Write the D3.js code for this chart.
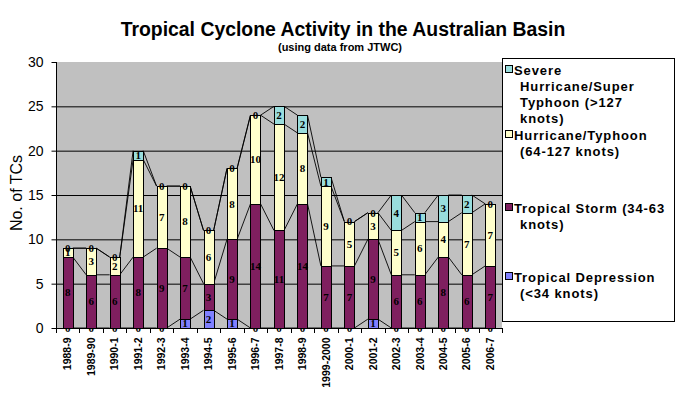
<!DOCTYPE html>
<html>
<head>
<meta charset="utf-8">
<script src="https://cdn.jsdelivr.net/npm/d3@7"></script>
<style>
  body { margin: 0; background: #fff; }
  svg { display: block; }
</style>
</head>
<body>
<div id="chart"></div>
<script>
const seasons = ["1988-9", "1989-90", "1990-1", "1991-2", "1992-3", "1993-4", "1994-5",
  "1995-6", "1996-7", "1997-8", "1998-9", "1999-2000", "2000-1", "2001-2", "2002-3",
  "2003-4", "2004-5", "2005-6", "2006-7"];
const depression = [0, 0, 0, 0, 0, 1, 2, 1, 0, 0, 0, 0, 0, 1, 0, 0, 0, 0, 0];
const storm = [8, 6, 6, 8, 9, 7, 3, 9, 14, 11, 14, 7, 7, 9, 6, 6, 8, 6, 7];
const hurricane = [1, 3, 2, 11, 7, 8, 6, 8, 10, 12, 8, 9, 5, 3, 5, 6, 4, 7, 7];
const severe = [0, 0, 0, 1, 0, 0, 0, 0, 0, 2, 2, 1, 0, 0, 4, 1, 3, 2, 0];
const yTicks = [0, 5, 10, 15, 20, 25, 30];

const seriesInfo = [
  { key: "td", color: "#8080ff", legend: ["Tropical Depression", "(<34 knots)"] },
  { key: "ts", color: "#7f1f5f", legend: ["Tropical Storm (34-63", "knots)"] },
  { key: "h", color: "#ffffcc", legend: ["Hurricane/Typhoon", "(64-127 knots)"] },
  { key: "sh", color: "#99dddd", legend: ["Severe", "Hurricane/Super", "Typhoon (>127", "knots)"] }
];

const table = seasons.map((s, i) => ({
  season: s, td: depression[i], ts: storm[i], h: hurricane[i], sh: severe[i]
}));

const width = 689;
const height = 395;
const plot = { left: 56, right: 502, top: 62, bottom: 328 };

const svg = d3.select("#chart").append("svg")
  .attr("width", width)
  .attr("height", height)
  .style("font-family", "'Liberation Sans', Arial, sans-serif");

const x = d3.scaleBand()
  .domain(seasons)
  .range([plot.left, plot.right])
  .paddingInner(0.57)
  .paddingOuter(0.285);

const y = d3.scaleLinear()
  .domain([0, 30])
  .range([plot.bottom, plot.top]);

const stacked = d3.stack().keys(seriesInfo.map(d => d.key))(table);

// plot area
svg.append("rect")
  .attr("x", plot.left)
  .attr("y", plot.top)
  .attr("width", plot.right - plot.left)
  .attr("height", plot.bottom - plot.top)
  .attr("fill", "#c0c0c0");

svg.append("g")
  .selectAll("line")
  .data(yTicks.filter(t => t > 0 && t < 30))
  .join("line")
  .attr("x1", plot.left)
  .attr("x2", plot.right)
  .attr("y1", d => y(d) + 0.5)
  .attr("y2", d => y(d) + 0.5)
  .attr("stroke", "#000");

// series lines between bars
const bw = x.bandwidth();
stacked.forEach(layer => {
  const segs = [];
  for (let i = 0; i < seasons.length - 1; i++) {
    segs.push([
      [x(seasons[i]) + bw, y(layer[i][1])],
      [x(seasons[i + 1]), y(layer[i + 1][1])]
    ]);
  }
  svg.append("g")
    .selectAll("line")
    .data(segs)
    .join("line")
    .attr("x1", d => d[0][0])
    .attr("y1", d => d[0][1])
    .attr("x2", d => d[1][0])
    .attr("y2", d => d[1][1])
    .attr("stroke", "#000")
    .attr("stroke-width", 0.9);
});

// bars
const layers = svg.append("g")
  .selectAll("g")
  .data(stacked)
  .join("g")
  .attr("fill", (d, i) => seriesInfo[i].color);

layers.selectAll("rect")
  .data(d => d.filter(p => p[1] > p[0]))
  .join("rect")
  .attr("x", d => Math.round(x(d.data.season)) + 0.5)
  .attr("y", d => Math.round(y(d[1])) + 0.5)
  .attr("width", Math.round(bw))
  .attr("height", d => Math.round(y(d[0])) - Math.round(y(d[1])))
  .attr("stroke", "#000")
  .attr("stroke-width", 1);

// data labels
layers.selectAll("text")
  .data(d => d.map(p => ({ p, key: d.key })))
  .join("text")
  .attr("x", d => x(d.p.data.season) + bw / 2)
  .attr("y", d => y((d.p[0] + d.p[1]) / 2))
  .attr("dy", "0.35em")
  .attr("text-anchor", "middle")
  .attr("fill", "#000")
  .style("font-family", "'Liberation Serif', 'Times New Roman', serif")
  .style("font-weight", "bold")
  .style("font-size", "11px")
  .text(d => d.p.data[d.key]);

// y axis
const gy = svg.append("g")
  .attr("transform", `translate(${plot.left + 0.5},0)`)
  .call(d3.axisLeft(y).tickValues(yTicks).tickSize(5).tickPadding(8).tickFormat(d3.format("d")));
gy.select(".domain").attr("stroke", "#000").attr("d", `M0,${plot.top}V${plot.bottom}`);
gy.selectAll(".tick line").attr("stroke", "#000");
gy.selectAll(".tick text")
  .style("font-family", "'Liberation Sans', Arial, sans-serif")
  .style("font-size", "14px")
  .attr("fill", "#000");

// x axis
const gx = svg.append("g")
  .attr("transform", `translate(0,${plot.bottom + 0.5})`)
  .call(d3.axisBottom(x).tickSize(0).tickPadding(0));
gx.select(".domain").attr("stroke", "#000").attr("d", `M${plot.left},0H${plot.right}`);
gx.selectAll(".tick text")
  .attr("transform", "rotate(-90)")
  .attr("x", -9)
  .attr("y", 0)
  .attr("dy", "0.35em")
  .attr("text-anchor", "end")
  .style("font-family", "'Liberation Sans', Arial, sans-serif")
  .style("font-weight", "bold")
  .style("font-size", "10.5px")
  .attr("fill", "#000");

svg.append("g")
  .selectAll("line")
  .data(d3.range(seasons.length + 1))
  .join("line")
  .attr("x1", i => Math.round(plot.left + x.step() * i) + 0.5)
  .attr("x2", i => Math.round(plot.left + x.step() * i) + 0.5)
  .attr("y1", plot.bottom)
  .attr("y2", plot.bottom + 5)
  .attr("stroke", "#000");

svg.append("text")
  .attr("transform", `translate(22,193) rotate(-90)`)
  .attr("text-anchor", "middle")
  .style("font-size", "16px")
  .text("No. of TCs");

// titles
svg.append("text")
  .attr("x", 343)
  .attr("y", 36)
  .attr("text-anchor", "middle")
  .style("font-weight", "bold")
  .style("font-size", "19.4px")
  .text("Tropical Cyclone Activity in the Australian Basin");

svg.append("text")
  .attr("x", 340)
  .attr("y", 51)
  .attr("text-anchor", "middle")
  .style("font-weight", "bold")
  .style("font-size", "11px")
  .text("(using data from JTWC)");

// legend
const legend = svg.append("g");
legend.append("rect")
  .attr("x", 502.5)
  .attr("y", 58.5)
  .attr("width", 172)
  .attr("height", 263)
  .attr("fill", "#fff")
  .attr("stroke", "#000");

const legendRows = [
  { s: seriesInfo[3], y: 70 },
  { s: seriesInfo[2], y: 135 },
  { s: seriesInfo[1], y: 208 },
  { s: seriesInfo[0], y: 277 }
];

legendRows.forEach(r => {
  const g = legend.append("g");
  g.append("rect")
    .attr("x", 505.5)
    .attr("y", r.y - 4.5)
    .attr("width", 7)
    .attr("height", 7)
    .attr("fill", r.s.color)
    .attr("stroke", "#000");
  g.selectAll("text")
    .data(r.s.legend)
    .join("text")
    .attr("x", (d, i) => i === 0 ? 514 : 520)
    .attr("y", (d, i) => r.y + i * 16.3)
    .attr("dy", "0.35em")
    .style("font-weight", "bold")
    .style("font-size", "13px")
    .style("letter-spacing", "0.9px")
    .text(d => d);
});
</script>
</body>
</html>
